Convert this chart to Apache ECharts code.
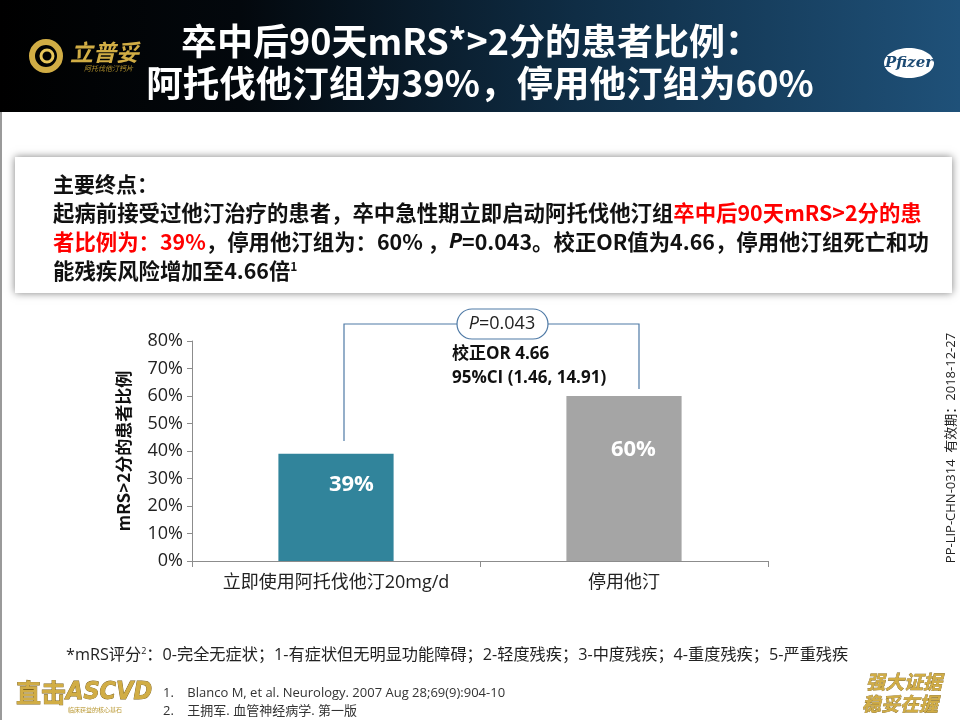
<!DOCTYPE html>
<html>
<head>
<meta charset="utf-8">
<script src="https://cdn.jsdelivr.net/npm/echarts@6/dist/echarts.min.js"></script>
<style>
  html, body { margin: 0; padding: 0; background: #fff; }
  #main { width: 960px; height: 720px; }
</style>
</head>
<body>
<div id="main"></div>
<script>
// 数据
var categories = ['立即使用阿托伐他汀20mg/d', '停用他汀'];
var percentValues = [39, 60];
var valueLabels = ['39%', '60%'];
var yTicks = [0, 10, 20, 30, 40, 50, 60, 70, 80];

var barColors = ['#31849b', '#a5a5a5'];
var labelPos = [[73, 31], [67, 54]];

var FONT = "'Open Sans','Noto Sans CJK SC',sans-serif";
var CJK = "'Noto Sans CJK SC','Noto Sans',sans-serif";
var GOLD = '#d1ad45';
var GOLD_DARK = '#7a5e18';

var myChart = echarts.init(document.getElementById('main'));

var option = {
    backgroundColor: '#fff',
    animation: false,
    grid: { left: 192, right: 192, top: 341, bottom: 159 },
    xAxis: {
        type: 'category',
        data: categories,
        axisLine: { lineStyle: { color: '#8c8c8c', width: 1 } },
        axisTick: { show: true, length: 6, lineStyle: { color: '#8c8c8c' } },
        axisLabel: { color: '#222', fontSize: 18, fontFamily: FONT, margin: 13, interval: 0, hideOverlap: false }
    },
    yAxis: {
        type: 'value',
        min: yTicks[0],
        max: yTicks[yTicks.length - 1],
        interval: yTicks[1] - yTicks[0],
        name: 'mRS>2分的患者比例',
        nameLocation: 'middle',
        nameRotate: 90,
        nameGap: 60,
        nameTextStyle: { color: '#111', fontSize: 17, fontWeight: 'bold', fontFamily: CJK },
        axisLine: { show: true, lineStyle: { color: '#8c8c8c', width: 1 } },
        axisTick: { show: true, length: 5, lineStyle: { color: '#8c8c8c' } },
        axisLabel: { color: '#222', fontSize: 18, fontFamily: FONT, margin: 9, formatter: '{value}%' },
        splitLine: { show: false }
    },
    series: [{
        type: 'bar',
        barWidth: '40%',
        data: percentValues.map(function (v, i) {
            return {
                value: v,
                itemStyle: { color: barColors[i] },
                label: {
                    show: true,
                    position: labelPos[i],
                    align: 'center',
                    verticalAlign: 'middle',
                    formatter: valueLabels[i],
                    color: '#fff',
                    fontSize: 22,
                    fontWeight: 'bold',
                    fontFamily: FONT
                }
            };
        })
    }],
    graphic: [
        // 顶部标题栏
        {
            type: 'rect', z: 10,
            shape: { x: 0, y: 0, width: 960, height: 112 },
            style: {
                fill: {
                    type: 'linear', x: 0, y: 0, x2: 1, y2: 0,
                    colorStops: [
                        { offset: 0, color: '#000000' },
                        { offset: 0.25, color: '#03080d' },
                        { offset: 0.6, color: '#0f2d45' },
                        { offset: 1, color: '#1f5179' }
                    ]
                }
            }
        },
        {
            type: 'text', z: 11, x: 471, y: 41,
            style: {
                text: '卒中后90天mRS*>2分的患者比例：',
                fill: '#fff', font: 'bold 36px ' + CJK, align: 'center', verticalAlign: 'middle'
            }
        },
        {
            type: 'text', z: 11, x: 480, y: 83,
            style: {
                text: '阿托伐他汀组为39%，停用他汀组为60%',
                fill: '#fff', font: 'bold 36.5px ' + CJK, align: 'center', verticalAlign: 'middle'
            }
        },
        // 立普妥 logo
        {
            type: 'circle', z: 11,
            shape: { cx: 46, cy: 56, r: 14 },
            style: { fill: 'none', stroke: GOLD, lineWidth: 6 }
        },
        {
            type: 'circle', z: 11,
            shape: { cx: 47, cy: 56, r: 6 },
            style: { fill: 'none', stroke: '#e8c65a', lineWidth: 3 }
        },
        {
            type: 'text', z: 11, x: 70, y: 52,
            style: { text: '立普妥', fill: GOLD, font: 'italic bold 23px ' + CJK, verticalAlign: 'middle' }
        },
        {
            type: 'text', z: 11, x: 84, y: 68,
            style: { text: '阿托伐他汀钙片', fill: '#b8962e', font: 'italic 7px ' + CJK, verticalAlign: 'middle' }
        },
        // Pfizer logo
        {
            type: 'ellipse', z: 11,
            shape: { cx: 909, cy: 63, rx: 25, ry: 15 },
            style: { fill: '#fff' }
        },
        {
            type: 'text', z: 12, x: 909, y: 63,
            style: { text: 'Pfizer', fill: '#1c4a73', font: 'italic bold 15px "DejaVu Serif", serif', align: 'center', verticalAlign: 'middle' }
        },
        // 左侧边线
        {
            type: 'rect', z: 1,
            shape: { x: 0, y: 112, width: 2, height: 608 },
            style: { fill: '#9a9a9a' }
        },
        // 主要终点文本框
        {
            type: 'rect', z: 2,
            shape: { x: 15, y: 157, width: 937, height: 136 },
            style: { fill: '#fff', shadowBlur: 8, shadowColor: 'rgba(0,0,0,0.5)', shadowOffsetX: 0, shadowOffsetY: 0 }
        },
        {
            type: 'text', z: 3, x: 53, y: 184,
            style: { text: '主要终点：', fill: '#111', font: 'bold 21px ' + CJK, verticalAlign: 'middle' }
        },
        {
            type: 'text', z: 3, x: 53, y: 213,
            style: {
                text: '{b|起病前接受过他汀治疗的患者，卒中急性期立即启动阿托伐他汀组}{r|卒中后90天mRS>2分的患}',
                verticalAlign: 'middle',
                rich: {
                    b: { fill: '#111', font: 'bold 21.4px ' + CJK },
                    r: { fill: '#ff0000', font: 'bold 21.4px ' + CJK }
                }
            }
        },
        {
            type: 'text', z: 3, x: 53, y: 242,
            style: {
                text: '{r|者比例为：39%}{b|，停用他汀组为：60% ，}{i|P}{b|=0.043。校正OR值为4.66，停用他汀组死亡和功}',
                verticalAlign: 'middle',
                rich: {
                    b: { fill: '#111', font: 'bold 21.4px ' + CJK },
                    r: { fill: '#ff0000', font: 'bold 21.4px ' + CJK },
                    i: { fill: '#111', font: 'italic bold 21.4px ' + FONT }
                }
            }
        },
        {
            type: 'text', z: 3, x: 53, y: 271,
            style: {
                text: '{b|能残疾风险增加至4.66倍}{s|1}',
                verticalAlign: 'middle',
                rich: {
                    b: { fill: '#111', font: 'bold 21.4px ' + CJK },
                    s: { fill: '#111', font: 'bold 12px ' + CJK, padding: [0, 0, 10, 0] }
                }
            }
        },
        // P 值括线
        {
            type: 'polyline', z: 5,
            shape: { points: [[344, 441], [344, 324], [457, 324]] },
            style: { stroke: '#4f7aa6', lineWidth: 1.2, fill: 'none' }
        },
        {
            type: 'polyline', z: 5,
            shape: { points: [[548, 324], [639, 324], [639, 389]] },
            style: { stroke: '#4f7aa6', lineWidth: 1.2, fill: 'none' }
        },
        {
            type: 'rect', z: 5,
            shape: { x: 457, y: 309, width: 91, height: 30, r: 15 },
            style: { fill: '#fff', stroke: '#4f7aa6', lineWidth: 1.2 }
        },
        {
            type: 'text', z: 6, x: 502, y: 324,
            style: {
                text: '{i|P}{n|=0.043}',
                align: 'center', verticalAlign: 'middle',
                rich: {
                    i: { fill: '#222', font: 'italic 18px ' + FONT },
                    n: { fill: '#222', font: '18px ' + FONT }
                }
            }
        },
        {
            type: 'text', z: 6, x: 452, y: 354,
            style: { text: '校正OR 4.66', fill: '#111', font: 'bold 17px ' + FONT, verticalAlign: 'middle' }
        },
        {
            type: 'text', z: 6, x: 452, y: 378,
            style: { text: '95%CI (1.46, 14.91)', fill: '#111', font: 'bold 17px ' + FONT, verticalAlign: 'middle' }
        },
        // 右侧竖排编号
        {
            type: 'text', z: 6, x: 951, y: 448, rotation: Math.PI / 2,
            style: { text: 'PP-LIP-CHN-0314  有效期：2018-12-27', fill: '#222', font: '13px ' + FONT, align: 'center', verticalAlign: 'middle' }
        },
        // 脚注
        {
            type: 'text', z: 6, x: 66, y: 655,
            style: {
                text: '{a|*mRS评分}{s|2}{a|：0-完全无症状；1-有症状但无明显功能障碍；2-轻度残疾；3-中度残疾；4-重度残疾；5-严重残疾}',
                verticalAlign: 'middle',
                rich: {
                    a: { fill: '#222', font: '16.2px ' + FONT },
                    s: { fill: '#222', font: '9px ' + FONT, padding: [0, 0, 8, 0] }
                }
            }
        },
        {
            type: 'text', z: 6, x: 163, y: 693,
            style: { text: '1.    Blanco M, et al. Neurology. 2007 Aug 28;69(9):904-10', fill: '#333', font: '13px ' + FONT, verticalAlign: 'middle' }
        },
        {
            type: 'text', z: 6, x: 163, y: 711,
            style: { text: '2.    王拥军. 血管神经病学. 第一版', fill: '#333', font: '13px ' + FONT, verticalAlign: 'middle' }
        },
        // 直击ASCVD
        {
            type: 'text', z: 6, x: 16, y: 692,
            style: {
                text: '{c|直击}{e|ASCVD}',
                verticalAlign: 'middle',
                rich: {
                    c: { fill: GOLD, font: 'bold 25px ' + CJK, stroke: GOLD_DARK, lineWidth: 0.8 },
                    e: { fill: GOLD, font: 'italic bold 25px "DejaVu Sans Condensed", sans-serif', stroke: GOLD_DARK, lineWidth: 0.8 }
                }
            }
        },
        {
            type: 'text', z: 6, x: 95, y: 710,
            style: { text: '临床获益的核心基石', fill: '#b8962e', font: '6px ' + CJK, align: 'center', verticalAlign: 'middle' }
        },
        // 强大证据 稳妥在握
        {
            type: 'text', z: 6, x: 866, y: 682,
            style: { text: '强大证据', fill: GOLD, font: 'italic bold 19px ' + CJK, stroke: GOLD_DARK, lineWidth: 0.6, verticalAlign: 'middle' }
        },
        {
            type: 'text', z: 6, x: 862, y: 704,
            style: { text: '稳妥在握', fill: GOLD, font: 'italic bold 19px ' + CJK, stroke: GOLD_DARK, lineWidth: 0.6, verticalAlign: 'middle' }
        }
    ]
};

myChart.setOption(option);
</script>
</body>
</html>
